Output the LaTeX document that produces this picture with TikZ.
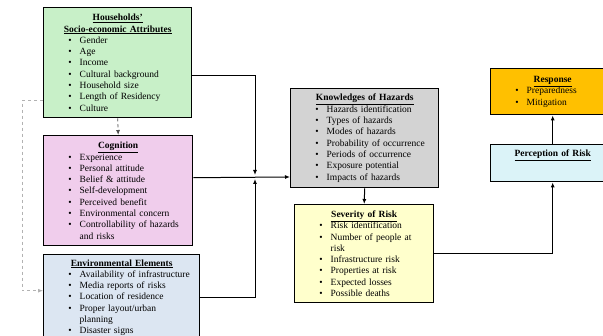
\documentclass[tikz,border=0pt]{standalone}
\usepackage{fontspec}
\setmainfont{Liberation Serif}
\usepackage{enumitem}
\usetikzlibrary{arrows.meta}
\setlist[itemize]{nosep,leftmargin=29pt,labelsep=8pt,label=\textbullet}
\definecolor{hhgreen}{HTML}{C8F0C8}
\definecolor{cogpink}{HTML}{F0CDEC}
\definecolor{envblue}{HTML}{DCE6F2}
\definecolor{knowgray}{HTML}{D3D3D3}
\definecolor{sevyellow}{HTML}{FFFFCC}
\definecolor{resporange}{HTML}{FFC000}
\definecolor{perccyan}{HTML}{DBF3F8}
\newcommand{\heading}[1]{{\centering\textbf{\underline{#1}}\par}}
\tikzset{
  factor/.style={draw,line width=1.4pt,anchor=north west,inner xsep=7pt,inner ysep=3pt,
    font=\fontsize{9.5}{11.3}\selectfont},
  link/.style={line width=1pt,-{Latex[length=5pt,width=4pt]}},
  hint/.style={dashed,line width=0.8pt,-{Latex[length=5pt,width=4pt]}}
}
\begin{document}
\begin{tikzpicture}[x=1pt,y=-1pt]
        \useasboundingbox (0,0) rectangle (603,336);
        \clip (0,0) rectangle (603,336);

        \node[factor,fill=hhgreen,text width=134pt,minimum height=110pt] (hh) at (43,7)
          {\heading{Households'}\heading{Socio-economic Attributes}
           \begin{itemize}\item Gender \item Age \item Income \item Cultural background
           \item Household size \item Length of Residency \item Culture\end{itemize}};
        \node[factor,fill=cogpink,text width=135pt,minimum height=110pt] (cog) at (43,135)
          {\heading{Cognition}
           \begin{itemize}\item Experience \item Personal attitude \item Belief \& attitude
           \item Self-development \item Perceived benefit \item Environmental concern
           \item Controllability of hazards and risks\end{itemize}};
        \node[factor,fill=envblue,text width=142pt,minimum height=86pt,align=left] (env) at (43,254)
          {\heading{Environmental Elements}
           \begin{itemize}\item Availability of infrastructure \item Media reports of risks
           \item Location of residence \item Proper layout/urban\newline planning
           \item Disaster signs\end{itemize}};
        \node[factor,fill=knowgray,text width=134pt,minimum height=99pt] (know) at (290,88)
          {\heading{Knowledges of Hazards}
           \begin{itemize}\item Hazards identification \item Types of hazards
           \item Modes of hazards \item Probability of occurrence \item Periods of occurrence
           \item Exposure potential \item Impacts of hazards\end{itemize}};
        \node[factor,fill=sevyellow,text width=125pt,minimum height=98pt] (sev) at (294,204)
          {\heading{Severity of Risk}
           \begin{itemize}\item Risk identification \item Number of people at risk
           \item Infrastructure risk \item Properties at risk \item Expected losses
           \item Possible deaths\end{itemize}};
        \node[factor,fill=resporange,text width=110pt,minimum height=46pt] (resp) at (490,68)
          {\heading{Response}
           \begin{itemize}\item Preparedness \item Mitigation\end{itemize}};
        \node[factor,fill=perccyan,text width=110pt,minimum height=37pt,text depth=20pt] (perc) at (490,144)
          {\heading{Perception of Risk}};

        \coordinate (junc) at (255,177);
        \draw[link] ([yshift=-13pt]hh.east) -| ([yshift=2pt]junc);
        \draw[link] (env.east) -| ([yshift=-2pt]junc);
        \draw[link] ([yshift=13pt]cog.east) -- (know.west |- junc);
        \draw[link] (know.south) -- (sev.north);
        \draw[link] (sev.east) -| (perc.south);
        \draw[link] (perc.north) -- (resp.south);
        \draw[hint,gray!60] ([yshift=-38pt]hh.west) -- ++(-21,0) |- ([yshift=7pt]env.west);
        \draw[hint,black!70] (hh.south) -- (cog.north);
\end{tikzpicture}
\end{document}
